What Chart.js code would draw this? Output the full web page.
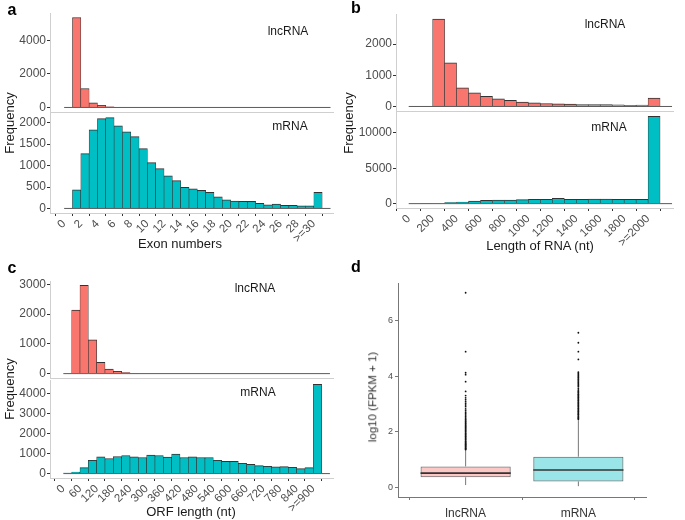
<!DOCTYPE html>
<html>
<head>
<meta charset="utf-8">
<script src="https://cdn.jsdelivr.net/npm/chart.js@4.4.1/dist/chart.umd.min.js"></script>
<style>
  body { margin: 0; background: #fff; }
  #fig { position: relative; width: 685px; height: 520px; overflow: hidden;
         font-family: "Liberation Sans", Arial, sans-serif; color: #1a1a1a; }
  canvas { position: absolute; }
  .t { position: absolute; white-space: nowrap; line-height: 1; transform: translate(-50%, -50%); }
  .letter { font-weight: bold; font-size: 16px; color: #000; }
  .facet { font-size: 12px; }
  .xtitle { font-size: 13px; }
  .ytitle { font-size: 13px; transform: translate(-50%, -50%) rotate(-90deg); }
</style>
</head>
<body>
<div id="fig">
  <canvas id="aTop"></canvas><canvas id="aBot"></canvas>
  <canvas id="bTop"></canvas><canvas id="bBot"></canvas>
  <canvas id="cTop"></canvas><canvas id="cBot"></canvas>
  <canvas id="dBox"></canvas>

  <div class="t letter" style="left:12px;top:10px">a</div>
  <div class="t letter" style="left:356px;top:8px">b</div>
  <div class="t letter" style="left:12px;top:268px">c</div>
  <div class="t letter" style="left:356px;top:267px">d</div>

  <div class="t ytitle" style="left:9px;top:123px">Frequency</div>
  <div class="t ytitle" style="left:348px;top:123px">Frequency</div>
  <div class="t ytitle" style="left:9px;top:389px">Frequency</div>
  <div class="t ytitle" style="left:373px;top:397px;font-size:11.5px;color:#333">log10 (FPKM + 1)</div>

  <div class="t facet" style="left:288px;top:31px">lncRNA</div>
  <div class="t facet" style="left:290px;top:126px">mRNA</div>
  <div class="t facet" style="left:605px;top:24px">lncRNA</div>
  <div class="t facet" style="left:609px;top:127px">mRNA</div>
  <div class="t facet" style="left:255px;top:288px">lncRNA</div>
  <div class="t facet" style="left:258px;top:392px">mRNA</div>

  <div class="t xtitle" style="left:180px;top:243px">Exon numbers</div>
  <div class="t xtitle" style="left:540px;top:245px">Length of RNA (nt)</div>
  <div class="t xtitle" style="left:191px;top:511px">ORF length (nt)</div>
</div>
<script>
// ---- data ----
// a: exon numbers, bins [n, n+1), last bin is ">=30"
const exonBins = [1, 2, 3, 4, 5, 6, 7, 8, 9, 10, 11, 12, 13, 14, 15, 16, 17, 18, 19, 20, 21, 22, 23, 24, 25, 26, 27, 28, 29, 30];
const exonLnc = [5350, 1130, 280, 120, 40, 15, 0, 0, 0, 0, 0, 0, 0, 0, 0, 0, 0, 0, 0, 0, 0, 0, 0, 0, 0, 0, 0, 0, 0, 0];
const exonMrna = [436, 1278, 1830, 2095, 2119, 1924, 1784, 1675, 1394, 1067, 927, 763, 647, 491, 460, 421, 374, 273, 203, 171, 164, 164, 117, 86, 101, 70, 70, 62, 62, 374];
const exonTicks = [0, 2, 4, 6, 8, 10, 12, 14, 16, 18, 20, 22, 24, 26, 28, 30, 32];
const exonTickLabels = ['0', '2', '4', '6', '8', '10', '12', '14', '16', '18', '20', '22', '24', '26', '28', '>=30', ''];

// b: RNA length, 100 nt bins, last bin is ">=2000"
const lenBins = [0, 100, 200, 300, 400, 500, 600, 700, 800, 900, 1000, 1100, 1200, 1300, 1400, 1500, 1600, 1700, 1800, 1900, 2000];
const lenLnc = [0, 0, 2806, 1398, 602, 441, 323, 247, 194, 140, 118, 97, 86, 75, 65, 60, 65, 55, 35, 45, 269];
const lenMrna = [0, 30, 40, 140, 230, 370, 470, 510, 510, 560, 610, 610, 750, 610, 610, 650, 650, 610, 610, 610, 12330];
const lenTicks = [0, 200, 400, 600, 800, 1000, 1200, 1400, 1600, 1800, 2000, 2200];
const lenTickLabels = ['0', '200', '400', '600', '800', '1000', '1200', '1400', '1600', '1800', '>=2000', ''];

// c: ORF length, 30 nt bins, last bin is ">=900"
const orfBins = [0, 30, 60, 90, 120, 150, 180, 210, 240, 270, 300, 330, 360, 390, 420, 450, 480, 510, 540, 570, 600, 630, 660, 690, 720, 750, 780, 810, 840, 870, 900];
const orfLnc = [0, 2133, 2967, 1133, 380, 155, 78, 33, 10, 0, 0, 0, 0, 0, 0, 0, 0, 0, 0, 0, 0, 0, 0, 0, 0, 0, 0, 0, 0, 0, 0];
const orfMrna = [30, 80, 300, 667, 833, 750, 850, 900, 833, 800, 917, 900, 817, 967, 800, 833, 800, 800, 667, 617, 617, 517, 467, 400, 367, 333, 350, 317, 250, 300, 4450];
const orfTicks = [0, 60, 120, 180, 240, 300, 360, 420, 480, 540, 600, 660, 720, 780, 840, 900, 960];
const orfTickLabels = ['0', '60', '120', '180', '240', '300', '360', '420', '480', '540', '600', '660', '720', '780', '840', '>=900', ''];

// d: expression boxplot
const boxGroups = ['lncRNA', 'mRNA'];
const boxLower = [0.08, 0.04];
const boxQ1 = [0.36, 0.21];
const boxMedian = [0.51, 0.62];
const boxQ3 = [0.75, 1.10];
const boxUpper = [1.34, 2.43];
const lncOutliers = [1.36, 1.38, 1.4, 1.42, 1.45, 1.48, 1.5, 1.53, 1.55, 1.58, 1.6, 1.63, 1.66, 1.7, 1.73, 1.76, 1.8, 1.83, 1.86, 1.9,
  1.93, 1.96, 2.0, 2.03, 2.06, 2.1, 2.13, 2.16, 2.2, 2.23, 2.27, 2.3, 2.34, 2.38, 2.42, 2.46, 2.5, 2.55, 2.6, 2.65, 2.7,
  2.76, 2.82, 2.9, 2.96, 3.02, 3.08, 3.15, 3.22, 3.3, 3.45, 3.8, 4.05, 4.12, 4.88, 7.0];
const mrnaOutliers = [2.45, 2.48, 2.5, 2.53, 2.56, 2.6, 2.63, 2.66, 2.7, 2.73, 2.76, 2.8, 2.83, 2.86, 2.9, 2.93, 2.96, 3.0, 3.03,
  3.06, 3.1, 3.13, 3.16, 3.2, 3.23, 3.26, 3.3, 3.33, 3.36, 3.4, 3.43, 3.46, 3.5, 3.56, 3.62, 3.66, 3.7, 3.74, 3.78, 3.82,
  3.86, 3.9, 3.94, 3.98, 4.02, 4.06, 4.1, 4.14, 4.6, 4.88, 5.2, 5.56];
const fpkmTicks = [0, 2, 4, 6];

const red = '#F8766D', cyan = '#00BFC4';

Chart.defaults.font.family = '"Liberation Sans", Arial, sans-serif';

const Y_W = 46, PAD = 10, X_H = 40;

// one histogram facet; box = plot area in page pixels
function facet(id, box, cfg) {
    const cv = document.getElementById(id);
    const bottom = cfg.showX ? X_H : PAD;
    cv.width = Y_W + box.w + PAD;
    cv.height = PAD + box.h + bottom;
    cv.style.left = (box.x - Y_W) + 'px';
    cv.style.top = (box.y - PAD) + 'px';

    const binW = cfg.bins[1] - cfg.bins[0];
    const ticks = cfg.xTicks;

    new Chart(cv, {
        data: {
            datasets: [
                {
                    // zero-count bins drawn as a flat outline
                    type: 'line',
                    data: [{ x: ticks[0], y: 0 }, { x: ticks[ticks.length - 1], y: 0 }],
                    borderColor: '#5a5a5a',
                    borderWidth: 1,
                    pointRadius: 0,
                    order: 0
                },
                {
                    type: 'bar',
                    data: cfg.bins.map((b, i) => ({ x: b + binW / 2, y: cfg.values[i] })),
                    backgroundColor: cfg.color,
                    borderColor: '#333',
                    borderWidth: { top: 1, left: 0.6, right: 0.6, bottom: 0 },
                    barPercentage: 1,
                    categoryPercentage: 1,
                    order: 1
                }
            ]
        },
        options: {
            responsive: false,
            animation: false,
            events: [],
            layout: { padding: { top: PAD, right: PAD, left: 0, bottom: cfg.showX ? 0 : PAD } },
            plugins: { legend: { display: false }, tooltip: { enabled: false } },
            scales: {
                x: {
                    type: 'linear',
                    min: cfg.xMin,
                    max: cfg.xMax,
                    offset: false,
                    afterBuildTicks: s => { s.ticks = ticks.map(v => ({ value: v })); },
                    afterFit: s => { s.height = cfg.showX ? X_H : 0; },
                    grid: { drawOnChartArea: false, drawTicks: cfg.showX, tickLength: 3, color: '#333' },
                    border: { color: '#cfcfcf', width: 1 },
                    ticks: {
                        display: cfg.showX,
                        autoSkip: false,
                        minRotation: 45,
                        maxRotation: 45,
                        padding: 1,
                        color: '#4d4d4d',
                        font: { size: 11.5 },
                        callback: v => cfg.xLabels[ticks.indexOf(v)]
                    }
                },
                y: {
                    min: cfg.yMin,
                    max: cfg.yMax,
                    afterBuildTicks: s => { s.ticks = cfg.yTicks.map(v => ({ value: v })); },
                    afterFit: s => { s.width = Y_W; },
                    grid: { drawOnChartArea: false, tickLength: 3, color: '#333' },
                    border: { color: '#cfcfcf', width: 1 },
                    ticks: { padding: 1, color: '#4d4d4d', font: { size: 12 }, callback: v => String(v) }
                }
            }
        }
    });
}

// Panel a
facet('aTop', { x: 50, y: 13, w: 283, h: 99 }, {
    bins: exonBins, values: exonLnc, color: red, xTicks: exonTicks, xLabels: exonTickLabels,
    xMin: -1.7, xMax: 32.3, yMin: -270, yMax: 5620, yTicks: [0, 2000, 4000], showX: false
});
facet('aBot', { x: 50, y: 113, w: 283, h: 100 }, {
    bins: exonBins, values: exonMrna, color: cyan, xTicks: exonTicks, xLabels: exonTickLabels,
    xMin: -1.7, xMax: 32.3, yMin: -106, yMax: 2225, yTicks: [0, 500, 1000, 1500, 2000], showX: true
});

// Panel b
facet('bTop', { x: 396, y: 14, w: 277, h: 97 }, {
    bins: lenBins, values: lenLnc, color: red, xTicks: lenTicks, xLabels: lenTickLabels,
    xMin: -106, xMax: 2208, yMin: -145, yMax: 2968, yTicks: [0, 1000, 2000], showX: false
});
facet('bBot', { x: 396, y: 112, w: 277, h: 96 }, {
    bins: lenBins, values: lenMrna, color: cyan, xTicks: lenTicks, xLabels: lenTickLabels,
    xMin: -106, xMax: 2208, yMin: -616, yMax: 12940, yTicks: [0, 5000, 10000], showX: true
});

// Panel c
facet('cTop', { x: 50, y: 281, w: 283, h: 97 }, {
    bins: orfBins, values: orfLnc, color: red, xTicks: orfTicks, xLabels: orfTickLabels,
    xMin: -48, xMax: 971, yMin: -147, yMax: 3110, yTicks: [0, 1000, 2000, 3000], showX: false
});
facet('cBot', { x: 50, y: 380, w: 283, h: 98 }, {
    bins: orfBins, values: orfMrna, color: cyan, xTicks: orfTicks, xLabels: orfTickLabels,
    xMin: -48, xMax: 971, yMin: -220, yMax: 4665, yTicks: [0, 1000, 2000, 3000, 4000], showX: true
});

// Panel d: boxplot from floating bars, line segments and points
const BOX_HALF = 0.4;
const D_YW = 30, D_XH = 30;
const dArea = { x: 398, y: 283, w: 248, h: 214 };
const dCv = document.getElementById('dBox');
dCv.width = D_YW + dArea.w + PAD;
dCv.height = PAD + dArea.h + D_XH;
dCv.style.left = (dArea.x - D_YW) + 'px';
dCv.style.top = (dArea.y - PAD) + 'px';

const boxFill = ['rgba(248,118,109,0.4)', 'rgba(0,191,196,0.4)'];
const segments = [];
boxGroups.forEach((g, i) => {
    const cx = i + 1;
    segments.push({ pts: [{ x: cx, y: boxQ3[i] }, { x: cx, y: boxUpper[i] }], color: '#777', w: 1 });
    segments.push({ pts: [{ x: cx, y: boxLower[i] }, { x: cx, y: boxQ1[i] }], color: '#777', w: 1 });
    segments.push({ pts: [{ x: cx - BOX_HALF, y: boxMedian[i] }, { x: cx + BOX_HALF, y: boxMedian[i] }], color: '#333', w: 1.6 });
});

new Chart(dCv, {
    data: {
        datasets: [
            {
                type: 'bar',
                data: boxGroups.map((g, i) => ({ x: i + 1, y: [boxQ1[i], boxQ3[i]] })),
                backgroundColor: boxFill,
                borderColor: '#6b6b6b',
                borderWidth: 1,
                borderSkipped: false,
                barPercentage: BOX_HALF * 2,
                categoryPercentage: 1,
                order: 3
            },
            ...segments.map(s => ({
                type: 'line', data: s.pts, borderColor: s.color, borderWidth: s.w, pointRadius: 0, order: 2
            })),
            {
                type: 'scatter',
                data: lncOutliers.map(v => ({ x: 1, y: v })).concat(mrnaOutliers.map(v => ({ x: 2, y: v }))),
                pointRadius: 0.9,
                pointBorderWidth: 0,
                backgroundColor: '#111',
                order: 1
            }
        ]
    },
    options: {
        responsive: false,
        animation: false,
        events: [],
        layout: { padding: { top: PAD, right: PAD, left: 0, bottom: 0 } },
        plugins: { legend: { display: false }, tooltip: { enabled: false } },
        scales: {
            x: {
                type: 'linear',
                min: 0.4,
                max: 2.6,
                offset: false,
                afterBuildTicks: s => { s.ticks = boxGroups.map((g, i) => ({ value: i + 1 })); },
                afterFit: s => { s.height = D_XH; },
                grid: { drawOnChartArea: false, tickLength: 3, color: '#777' },
                border: { color: '#777', width: 1 },
                ticks: { padding: 6, color: '#333', font: { size: 12 }, maxRotation: 0, callback: v => boxGroups[v - 1] }
            },
            y: {
                min: -0.35,
                max: 7.35,
                afterBuildTicks: s => { s.ticks = fpkmTicks.map(v => ({ value: v })); },
                afterFit: s => { s.width = D_YW; },
                grid: { drawOnChartArea: false, tickLength: 3, color: '#777' },
                border: { color: '#777', width: 1 },
                ticks: { padding: 2, color: '#4d4d4d', font: { size: 9 }, callback: v => String(v) }
            }
        }
    }
});
</script>
</body>
</html>
